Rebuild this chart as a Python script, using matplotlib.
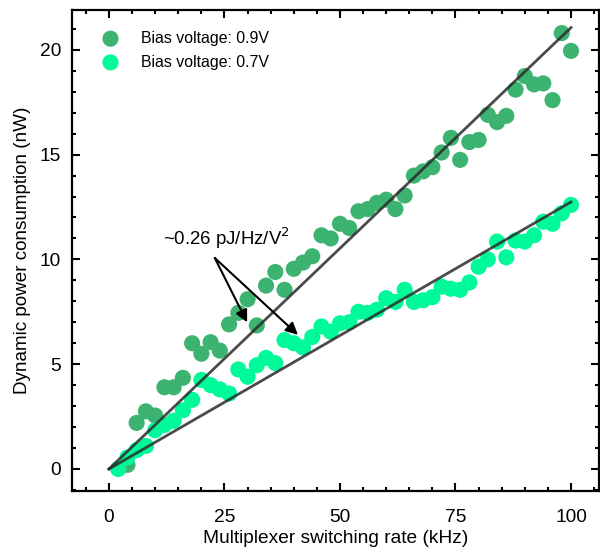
import numpy as np
import matplotlib
matplotlib.use("Agg")
import matplotlib.pyplot as plt
from matplotlib.ticker import MultipleLocator

plt.rcParams['font.family'] = ['Liberation Sans', 'DejaVu Sans']

# Switching rate (kHz) and measured dynamic power (nW)
rate_09 = [4, 6, 8, 10, 12, 14, 16, 18, 20, 22, 24, 26, 28, 30, 32, 34, 36, 38,
           40, 42, 44, 46, 48, 50, 52, 54, 56, 58, 60, 62, 64, 66, 68, 70, 72,
           74, 76, 78, 80, 82, 84, 86, 88, 90, 92, 94, 96, 98, 100]
power_09 = [0.2, 2.2, 2.75, 2.55, 3.9, 3.9, 4.35, 6.0, 5.5, 6.05, 5.65, 6.9,
            7.45, 8.1, 6.85, 8.75, 9.4, 8.55, 9.55, 9.85, 10.15, 11.15, 11.0,
            11.7, 11.5, 12.3, 12.4, 12.7, 12.85, 12.4, 13.05, 14.0, 14.2, 14.4,
            15.1, 15.8, 14.75, 15.6, 15.7, 16.9, 16.55, 16.85, 18.1, 18.75,
            18.35, 18.4, 17.6, 20.8, 19.95]

rate_07 = [2, 4, 6, 8, 10, 12, 14, 16, 18, 20, 22, 24, 26, 28, 30, 32, 34, 36,
           38, 40, 42, 44, 46, 48, 50, 52, 54, 56, 58, 60, 62, 64, 66, 68, 70,
           72, 74, 76, 78, 80, 82, 84, 86, 88, 90, 92, 94, 96, 98, 100]
power_07 = [0.0, 0.55, 0.9, 1.1, 1.85, 2.1, 2.3, 2.8, 3.3, 4.25, 4.0, 3.8, 3.6,
            4.75, 4.4, 4.95, 5.3, 5.05, 6.15, 6.0, 5.8, 6.3, 6.8, 6.55, 6.95,
            7.0, 7.5, 7.45, 7.6, 8.15, 7.97, 8.55, 7.97, 8.05, 8.2, 8.7, 8.6,
            8.55, 8.9, 9.65, 10.0, 10.85, 10.1, 10.9, 10.85, 11.15, 11.8, 11.7,
            12.2, 12.6]

# P = C * V^2 * f, C in pJ/Hz/V^2 -> nW per kHz
coef = 0.26
bias = [0.9, 0.7]

fig = plt.figure(figsize=(6.0, 5.48), dpi=100, facecolor='white')
ax = fig.add_axes([72 / 600, 57 / 548, 527 / 600, 481 / 548])

ax.scatter(rate_09, power_09, s=135, color='#3CB371', edgecolors='none',
           label='Bias voltage: 0.9V', zorder=2)
ax.scatter(rate_07, power_07, s=135, color='#00FA9A', edgecolors='none',
           label='Bias voltage: 0.7V', zorder=2)

f = np.array([0, 100])
for v in bias:
    ax.plot(f, coef * v ** 2 * f, color='#2b2b2b', lw=2, alpha=0.85, zorder=3)

# label and two arrows pointing at the fitted lines
ax.text(25.5, 11.0, '~0.26 pJ/Hz/V$^2$', ha='center', va='center', fontsize=13.4)
for tip in [(29.9, 7.0), (40.9, 6.4)]:
    ax.annotate('', xy=tip, xytext=(22.9, 10.07),
                arrowprops=dict(arrowstyle='-|>', color='black', lw=1.5,
                                mutation_scale=18, shrinkA=0, shrinkB=0))

ax.set_xlim(-8, 106.06)
ax.set_ylim(-1.05, 21.9)
ax.xaxis.set_major_locator(MultipleLocator(25))
ax.xaxis.set_minor_locator(MultipleLocator(5))
ax.yaxis.set_major_locator(MultipleLocator(5))
ax.yaxis.set_minor_locator(MultipleLocator(1))
ax.tick_params(which='both', direction='in', top=True, right=True,
               width=1.5, labelsize=13.8, pad=8)
ax.tick_params(axis='x', which='major', pad=13)
ax.tick_params(which='major', length=6)
ax.tick_params(which='minor', length=3)
for sp in ax.spines.values():
    sp.set_linewidth(1.6)

ax.set_xlabel('Multiplexer switching rate (kHz)', fontsize=13.8, labelpad=3)
ax.set_ylabel('Dynamic power consumption (nW)', fontsize=13.6, labelpad=6)

ax.legend(loc='upper left', frameon=False, fontsize=11.4,
          handletextpad=0.9, labelspacing=0.55, borderaxespad=0.4,
          bbox_to_anchor=(0.019, 0.983))

fig.savefig('out.png', dpi=100)
plt.close(fig)
